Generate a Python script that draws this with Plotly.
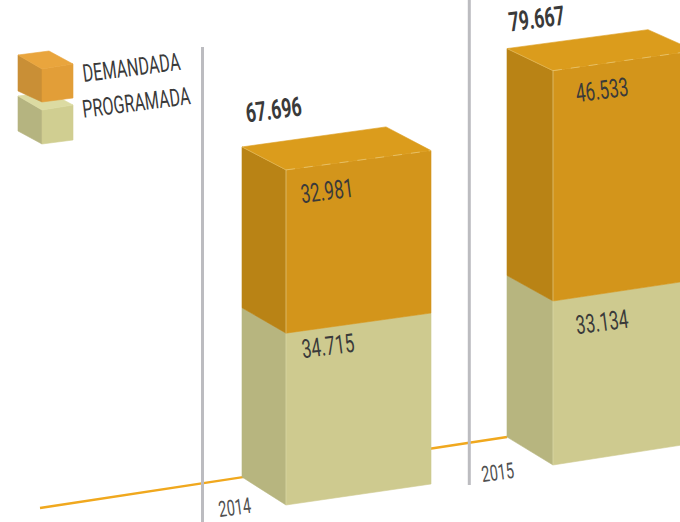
import plotly.graph_objects as go

# ---- data ----
years = ["2014", "2015"]
programada = [34715, 33134]
demandada = [32981, 46533]
totals = [67696, 79667]
series_names = ["DEMANDADA", "PROGRAMADA"]

# ---- projection: pixels per unit of value, and the oblique box of each bar ----
W, H = 680, 522
K = 0.00495
BOXES = [
    dict(back=242, front=286, right=431, corner=386,
         back_y=477, front_y=505, right_y=484, corner_y=462),
    dict(back=507, front=553, right=695, corner=648,
         back_y=437, front_y=465, right_y=443, corner_y=424),
]
BACK_SCALE, RIGHT_SCALE = 0.985, 0.995


def py(pixel_y):
    """Value-axis coordinate of a pixel row."""
    return (H - pixel_y) / K


def thousands(v):
    return f"{v:,}".replace(",", ".")


COL = dict(
    dem_front="#D3951B", dem_left="#B98315", dem_top="#DB9C1C",
    pro_front="#CECA8F", pro_left="#B7B57F",
    leg_o_top="#E9A53D", leg_o_front="#E29E38", leg_o_left="#C98F36",
    leg_p_top="#DCDBA2", leg_p_front="#D0CE91", leg_p_left="#B5B480",
    guide="#BCBCC0", axis="#F0A81E", text="#3A3A3A", year="#505050",
)

fig = go.Figure()


def poly(xs, ys, color):
    fig.add_trace(go.Scatter(
        x=xs + xs[:1], y=ys + ys[:1], mode="lines", fill="toself", fillcolor=color,
        line=dict(color=color, width=0.6), hoverinfo="skip", showlegend=False))


def line(xs, ys, color, width, dash="solid"):
    fig.add_trace(go.Scatter(
        x=xs, y=ys, mode="lines", line=dict(color=color, width=width, dash=dash),
        hoverinfo="skip", showlegend=False))


# base line and guide lines
line([40, BOXES[1]["back"]], [py(508), py(437)], COL["axis"], 2.4)
line([202.5, 202.5], [py(47), py(522)], COL["guide"], 3)
line([469.3, 469.3], [py(0), py(485)], COL["guide"], 3)

# stacked oblique bars, computed from the values
for i, b in enumerate(BOXES):
    def back_at(v):
        return py(b["back_y"]) + v * BACK_SCALE

    def front_at(v):
        return py(b["front_y"]) + v

    def right_at(v):
        return py(b["right_y"]) + v * RIGHT_SCALE

    lower, upper = programada[i], programada[i] + demandada[i]
    for lo, hi, f, s in [(0, lower, COL["pro_front"], COL["pro_left"]),
                         (lower, upper, COL["dem_front"], COL["dem_left"])]:
        poly([b["back"], b["front"], b["front"], b["back"]],
             [back_at(lo), front_at(lo), front_at(hi), back_at(hi)], s)
        poly([b["front"], b["right"], b["right"], b["front"]],
             [front_at(lo), right_at(lo), right_at(hi), front_at(hi)], f)
    poly([b["back"], b["front"], b["right"], b["corner"]],
         [back_at(upper), front_at(upper), right_at(upper), py(b["corner_y"]) + upper],
         COL["dem_top"])
    line([b["front"], b["right"]], [front_at(upper), right_at(upper)], "#E8C673", 0.8, "dash")
    line([b["front"], b["front"]], [front_at(0), front_at(upper)], "#E2DDB0", 0.5)
    line([b["back"], b["front"]], [back_at(upper), front_at(upper)], "#E4C678", 0.5)

# legend cubes
poly([18, 42, 42, 18], [py(96), py(110), py(144), py(131)], COL["leg_p_left"])
poly([42, 73, 73, 42], [py(110), py(105), py(140), py(144)], COL["leg_p_front"])
poly([18, 49, 73, 42], [py(96), py(92), py(105), py(110)], COL["leg_p_top"])
poly([18, 42, 42, 18], [py(55), py(69), py(102), py(91)], COL["leg_o_left"])
poly([42, 73, 73, 42], [py(69), py(64), py(98), py(102)], COL["leg_o_front"])
poly([18, 49, 73, 42], [py(55), py(51), py(64), py(69)], COL["leg_o_top"])

FONT = "Roboto"
ANGLE = -7.3
SX = 0.66  # the reference face is a condensed one


def label(text, x, y, size, color=COL["text"], bold=False):
    fig.add_annotation(
        x=x, y=py(y), text=f"<b>{text}</b>" if bold else text, showarrow=False,
        textangle=ANGLE, xanchor="center", yanchor="middle",
        font=dict(family=FONT, size=size, color=color, weight=700 if bold else 400))


label(series_names[0], 131, 67, 24.5)
label(series_names[1], 136, 102, 24.5)
VALUE_POS = [((327, 190.5), (327.5, 345.5)), ((601.5, 89.5), (601.5, 321.5))]
TOTAL_POS = [(273.5, 110), (536.5, 19)]
YEAR_POS = [(234.5, 507), (497.5, 472)]
for i in range(2):
    label(thousands(demandada[i]), *VALUE_POS[i][0], 26)
    label(thousands(programada[i]), *VALUE_POS[i][1], 26)
    label(thousands(totals[i]), *TOTAL_POS[i], 27, bold=True)
    label(years[i], *YEAR_POS[i], 22, color=COL["year"])

fig.update_layout(
    width=W, height=H, margin=dict(l=0, r=0, t=0, b=0),
    paper_bgcolor="white", plot_bgcolor="white", showlegend=False,
    xaxis=dict(range=[0, W], visible=False, fixedrange=True),
    yaxis=dict(range=[0, H / K], visible=False, fixedrange=True),
)
condense = (
    "document.body.style.margin='0';document.body.style.overflow='hidden';"
    "document.querySelectorAll('text.annotation-text').forEach(function(t){"
    "var b=t.getBBox(),c=b.x+b.width/2;"
    f"t.setAttribute('transform','translate('+c+' 0) scale({SX} 1) translate('+(-c)+' 0)');"
    "});"
)
fig.write_html("out.html", include_plotlyjs=True,
               config=dict(displayModeBar=False), post_script=condense)
